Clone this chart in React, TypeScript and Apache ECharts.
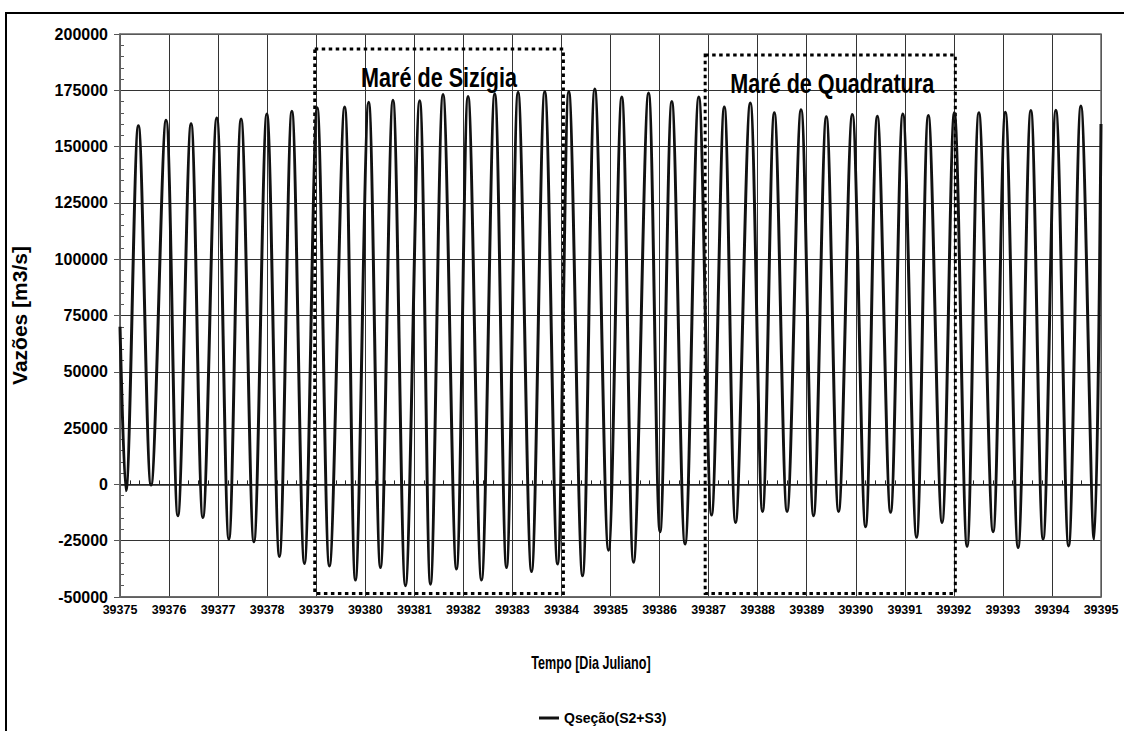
import React, { useEffect, useRef } from "react";
import * as echarts from "echarts";

// ---- Data ----
const xMin = 39375;
const xMax = 39395;
const yMin = -50000;
const yMax = 200000;
const yStep = 25000;

const startPoint: [number, number] = [39375.0, 70000];
const endPoint: [number, number] = [39395.0, 160000];

const peakTimes = [
  39375.375, 39375.939, 39376.449, 39376.973, 39377.469, 39377.994, 39378.504, 39379.02,
  39379.58, 39380.07, 39380.565, 39381.11, 39381.586, 39382.096, 39382.64, 39383.116,
  39383.66, 39384.15, 39384.68, 39385.23, 39385.776, 39386.25, 39386.8, 39387.32,
  39387.85, 39388.34, 39388.885, 39389.4, 39389.93, 39390.44, 39390.96, 39391.48,
  39392.01, 39392.51, 39393.05, 39393.57, 39394.08, 39394.59,
];
const peakValues = [
  159300, 161700, 160100, 162700, 162300, 164500, 165700, 167200,
  167600, 169700, 170600, 170400, 173100, 172300, 173500, 174100,
  174500, 174500, 175600, 172000, 173800, 170000, 172000, 167600,
  169400, 165000, 166400, 163200, 164200, 163500, 164500, 163800,
  165000, 165000, 165200, 166000, 166100, 168000,
];
const troughTimes = [
  39375.12, 39375.633, 39376.18, 39376.69, 39377.22, 39377.73, 39378.25, 39378.76,
  39379.27, 39379.8, 39380.31, 39380.82, 39381.33, 39381.86, 39382.37, 39382.88,
  39383.39, 39383.92, 39384.43, 39384.96, 39385.47, 39386.01, 39386.52, 39387.06,
  39387.55, 39388.1, 39388.6, 39389.14, 39389.65, 39390.2, 39390.71, 39391.24,
  39391.76, 39392.27, 39392.8, 39393.31, 39393.82, 39394.34, 39394.86,
];
const troughValues = [
  -2800, -300, -13900, -14700, -24300, -25500, -32000, -35100,
  -36200, -42500, -36900, -45000, -44300, -37600, -42500, -36900,
  -38700, -35400, -40600, -29200, -34600, -21000, -26500, -13600,
  -16900, -12000, -12000, -13900, -12000, -18800, -12400, -23500,
  -16900, -27500, -21000, -28000, -24300, -27300, -24300,
];

const boxNames = ["Maré de Sizígia", "Maré de Quadratura"];
const boxStart = [39378.97, 39386.93];
const boxEnd = [39384.04, 39392.03];
const boxTop = [193300, 190700];
const boxBottom = [-48400, -48400];

const seriesName = "Qseção(S2+S3)";
const xTitle = "Tempo [Dia Juliano]";
const yTitle = "Vazões [m3/s]";

const SANS = "'Liberation Sans', Arial, sans-serif";

export default function App() {
  const ref = useRef<HTMLDivElement>(null);

  useEffect(() => {
    document.body.style.margin = "0";
    if (!ref.current) return;
    const chart = echarts.init(ref.current, undefined, { renderer: "svg" });

    const pts: [number, number][] = [startPoint];
    peakTimes.forEach((t, i) => pts.push([t, peakValues[i]]));
    troughTimes.forEach((t, i) => pts.push([t, troughValues[i]]));
    pts.push(endPoint);
    pts.sort((a, b) => a[0] - b[0]);

    const areas = boxNames.map((name, i) => [
      { name, coord: [boxStart[i], boxTop[i]] },
      { coord: [boxEnd[i], boxBottom[i]] },
    ]);

    chart.setOption({
      animation: false,
      backgroundColor: "#ffffff",
      grid: { left: 120, right: 23, top: 34, bottom: 134, show: false },
      legend: {
        show: true,
        left: 534,
        bottom: 1,
        itemWidth: 20,
        itemHeight: 3,
        itemGap: 4,
        textStyle: { fontFamily: SANS, fontWeight: "bold", fontSize: 14, color: "#000" },
        data: [{ name: seriesName, icon: "rect" }],
      },
      xAxis: [
        {
          type: "value",
          min: xMin,
          max: xMax,
          interval: 1,
          position: "bottom",
          axisLine: { onZero: false, show: true, lineStyle: { color: "#555", width: 1.5 } },
          axisTick: { show: false },
          axisLabel: {
            formatter: (v: number) => String(v),
            fontFamily: SANS,
            fontWeight: "bold",
            fontSize: 12.5,
            color: "#000",
            margin: 6,
          },
          splitLine: { show: true, lineStyle: { color: "#333", width: 1 } },
        },
        {
          type: "value",
          min: xMin,
          max: xMax,
          interval: 1,
          position: "bottom",
          axisLine: { onZero: true, show: true, lineStyle: { color: "#222", width: 1.5 } },
          axisTick: { show: false, inside: true },
          minorTick: { show: true, splitNumber: 5, length: 4, lineStyle: { color: "#222", width: 1 } },
          axisLabel: { show: false },
          splitLine: { show: false },
        },
      ],
      yAxis: [
        {
          type: "value",
          min: yMin,
          max: yMax,
          interval: yStep,
          axisLine: { show: true, lineStyle: { color: "#555", width: 1.5 } },
          axisTick: { show: true, length: 6, lineStyle: { color: "#555" } },
          axisLabel: {
            formatter: (v: number) => String(v),
            fontFamily: SANS,
            fontWeight: "bold",
            fontSize: 16,
            color: "#000",
            margin: 12,
          },
          splitLine: { show: true, lineStyle: { color: "#333", width: 1.2 } },
          name: yTitle,
          nameLocation: "middle",
          nameGap: 90,
          nameRotate: 90,
          nameTextStyle: { fontFamily: SANS, fontWeight: "bold", fontSize: 21, color: "#000" },
        },
        {
          type: "value",
          min: yMin,
          max: yMax,
          interval: yStep,
          position: "left",
          axisLine: { show: false },
          axisTick: { show: false, inside: true },
          minorTick: { show: true, splitNumber: 5, length: 4, lineStyle: { color: "#555", width: 1 } },
          axisLabel: { show: false },
          splitLine: { show: false },
        },
      ],
      series: [
        {
          name: seriesName,
          type: "line",
          data: pts,
          xAxisIndex: 0,
          yAxisIndex: 0,
          symbol: "none",
          showSymbol: false,
          smooth: 0.35,
          lineStyle: { color: "#111", width: 3 },
          itemStyle: { color: "#111" },
          z: 3,
          markArea: {
            silent: true,
            itemStyle: {
              color: "rgba(0,0,0,0)",
              borderColor: "#000",
              borderWidth: 3,
              borderType: [3.5, 3.5],
            },
            label: { show: false },
            data: areas,
          },
        },
      ],
    });

    // Annotations: box titles, axis title and outer frame
    const graphics: any[] = [
      {
        type: "rect",
        shape: { x: 6, y: 13, width: 1300, height: 900 },
        style: { fill: "none", stroke: "#000", lineWidth: 2 },
        silent: true,
        z: 100,
      },
      {
        type: "rect",
        shape: { x: 120, y: 34, width: 981, height: 563 },
        style: { fill: "none", stroke: "#666", lineWidth: 1.5 },
        silent: true,
        z: 1,
      },
      {
        type: "text",
        x: 591,
        y: 663,
        scaleX: 0.7,
        style: {
          text: xTitle,
          fontFamily: SANS,
          fontWeight: "bold",
          fontSize: 18,
          fill: "#000",
          align: "center",
          verticalAlign: "middle",
        },
        silent: true,
      },
    ];
    boxNames.forEach((name, i) => {
      const p0 = chart.convertToPixel({ xAxisIndex: 0, yAxisIndex: 0 }, [boxStart[i], boxTop[i]]) as number[];
      const p1 = chart.convertToPixel({ xAxisIndex: 0, yAxisIndex: 0 }, [boxEnd[i], boxTop[i]]) as number[];
      graphics.push({
        type: "text",
        x: (p0[0] + p1[0]) / 2 + (i === 1 ? 2 : 0),
        y: p0[1] + 29,
        scaleX: 0.8,
        style: {
          text: name,
          fontFamily: SANS,
          fontWeight: "bold",
          fontSize: 27,
          fill: "#000",
          align: "center",
          verticalAlign: "middle",
        },
        silent: true,
        z: 50,
      });
    });
    chart.setOption({ graphic: graphics });

    return () => chart.dispose();
  }, []);

  return <div ref={ref} style={{ width: 1124, height: 731 }} />;
}
